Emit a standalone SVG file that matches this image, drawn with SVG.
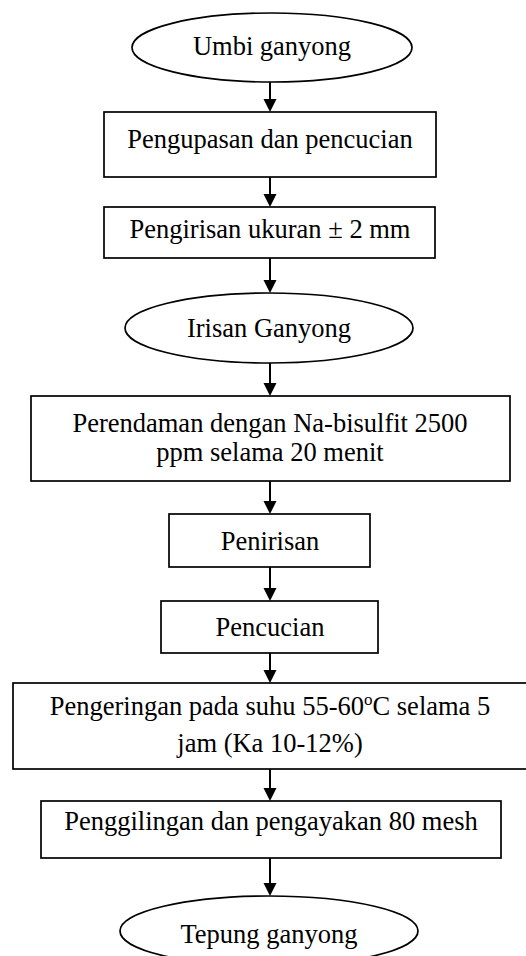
<svg xmlns="http://www.w3.org/2000/svg" width="526" height="956" viewBox="0 0 526 956">
<defs>
<style>
.n{fill:#fff;stroke:#000;stroke-width:1.7}
.t{font-family:"Liberation Serif","Times New Roman",serif;font-size:26.5px;fill:#000;text-anchor:middle}
.c{stroke:#000;stroke-width:2;fill:none}
</style>
<path id="head" d="M-6.5,-13 L6.5,-13 L0,0 Z" fill="#000"/>
</defs>
<rect width="526" height="956" fill="#fff"/>
<g id="connectors">
<line class="c" x1="270" y1="82" x2="270" y2="100"/><use href="#head" x="270" y="112"/>
<line class="c" x1="270" y1="177" x2="270" y2="195"/><use href="#head" x="270" y="207"/>
<line class="c" x1="270" y1="258" x2="270" y2="281"/><use href="#head" x="270" y="293"/>
<line class="c" x1="270" y1="363" x2="270" y2="384"/><use href="#head" x="270" y="396"/>
<line class="c" x1="270" y1="481" x2="270" y2="502"/><use href="#head" x="270" y="514"/>
<line class="c" x1="270" y1="567" x2="270" y2="589"/><use href="#head" x="270" y="601"/>
<line class="c" x1="270" y1="653" x2="270" y2="671"/><use href="#head" x="270" y="683"/>
<line class="c" x1="270" y1="769" x2="270" y2="789"/><use href="#head" x="270" y="801"/>
<line class="c" x1="270" y1="858" x2="270" y2="884"/><use href="#head" x="270" y="896"/>
</g>
<g id="n1"><ellipse class="n" cx="272" cy="47.5" rx="140" ry="34.5"/><text class="t" x="272" y="55">Umbi ganyong</text></g>
<g id="n2"><rect class="n" x="104" y="112" width="332" height="65"/><text class="t" x="270" y="148">Pengupasan dan pencucian</text></g>
<g id="n3"><rect class="n" x="104" y="207" width="331" height="51"/><text class="t" x="270" y="238">Pengirisan ukuran ± 2 mm</text></g>
<g id="n4"><ellipse class="n" cx="269" cy="328" rx="144" ry="35"/><text class="t" x="269" y="337">Irisan Ganyong</text></g>
<g id="n5"><rect class="n" x="31" y="396" width="479" height="85"/><text class="t" x="270" y="432">Perendaman dengan Na-bisulfit 2500</text><text class="t" x="270" y="461">ppm selama 20 menit</text></g>
<g id="n6"><rect class="n" x="169" y="514" width="201" height="53"/><text class="t" x="270" y="550">Penirisan</text></g>
<g id="n7"><rect class="n" x="161" y="601" width="217" height="52"/><text class="t" x="270" y="636">Pencucian</text></g>
<g id="n8"><rect class="n" x="13" y="683" width="520" height="86"/><text class="t" x="270" y="715">Pengeringan pada suhu 55-60<tspan font-size="17" dy="-10">o</tspan><tspan dy="10">C selama 5</tspan></text><text class="t" x="270" y="752">jam (Ka 10-12%)</text></g>
<g id="n9"><rect class="n" x="41" y="801" width="460" height="57"/><text class="t" x="271" y="830">Penggilingan dan pengayakan 80 mesh</text></g>
<g id="n10"><ellipse class="n" cx="269" cy="931" rx="149" ry="35"/><text class="t" x="269" y="943">Tepung ganyong</text></g>
</svg>
